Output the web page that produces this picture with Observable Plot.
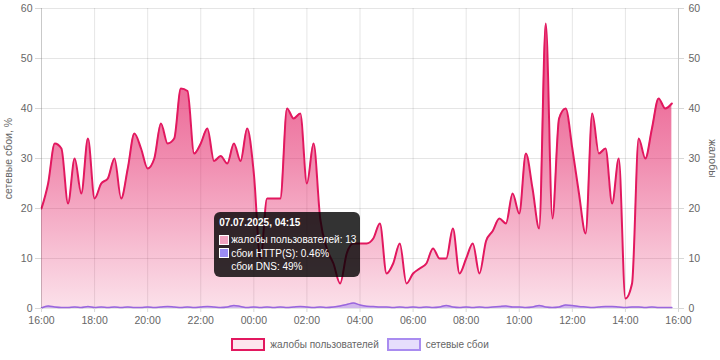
<!DOCTYPE html>
<html><head><meta charset="utf-8">
<script src="https://cdn.jsdelivr.net/npm/d3@7"></script>
<script src="https://cdn.jsdelivr.net/npm/@observablehq/plot@0.6"></script>
<style>
html,body{margin:0;padding:0;background:#fff;}
body{font-family:"Liberation Sans",Arial,sans-serif;}
#wrap{position:relative;width:720px;height:360px;overflow:hidden;}
#legend{position:absolute;left:0;top:338px;width:720px;display:flex;justify-content:center;align-items:center;font-size:10px;color:#666;}
#legend .item{display:flex;align-items:center;margin:0 4px;}
#legend .box{width:30px;height:9px;border:2px solid;margin-right:5px;}
#tip{position:absolute;width:146px;height:65px;box-sizing:border-box;background:rgba(0,0,0,0.8);border-radius:6px;color:#fff;font-size:10px;padding:4px 5px;line-height:13.8px;}
#tip .t{font-weight:bold;margin-bottom:3px;}
#tip .r{display:flex;align-items:center;white-space:nowrap;}
#tip .sq{width:10px;height:10px;box-sizing:border-box;border:1px solid #fff;margin-right:2px;flex:none;}
#tip .sp{width:12px;flex:none;margin-right:0;}
</style></head><body>
<div id="wrap"></div>
<script>
// complaints (жалобы пользователей), every 15 minutes from 06.07.2025 16:00
const complaints = [
  20,25,33,32,21,30,23,34,
  22,25,26,30,22,28,35,32,
  28,30,37,33,34,44,43.5,31,
  33,36,29.5,30.5,29,33,29.5,36,
  27,10,22,22,22,40,38,39,
  25,33,18,12,9,5,11,13,
  13,13,14,17,7,9,13,5,
  7,8,9,12,10,10,16,7,
  10,13,7,13.5,15.5,18,17,23,
  19,31,24,16,57,18,38,40,
  32,23,15,39,31,32,21,30,
  2,5,34,30,36,42,40,41
];
// network outages (сетевые сбои), %
const outages = [
  0.1,0.5,0.3,0.2,0.2,0.3,0.2,0.4,
  0.2,0.3,0.2,0.3,0.2,0.3,0.2,0.2,
  0.3,0.2,0.3,0.4,0.3,0.2,0.3,0.2,
  0.3,0.4,0.3,0.2,0.3,0.6,0.4,0.2,
  0.3,0.2,0.3,0.2,0.3,0.2,0.3,0.4,
  0.3,0.2,0.3,0.2,0.3,0.5,0.8,1.1,
  0.7,0.46,0.4,0.3,0.3,0.2,0.3,0.2,
  0.3,0.2,0.3,0.2,0.3,0.6,0.3,0.2,
  0.3,0.2,0.3,0.2,0.3,0.4,0.5,0.3,
  0.3,0.2,0.3,0.6,0.3,0.2,0.3,0.7,
  0.6,0.4,0.3,0.2,0.3,0.4,0.4,0.3,
  0.2,0.3,0.3,0.2,0.3,0.2,0.2,0.2
];
const yTicks = [0,10,20,30,40,50,60];
const seriesNames = ["жалобы пользователей","сетевые сбои"];
const leftTitle = "сетевые сбои, %";
const rightTitle = "жалобы";
const tipTitle = "07.07.2025, 04:15";
const tipLines = ["жалобы пользователей: 13","сбои HTTP(S): 0.46%","сбои DNS: 49%"];
const tipIndex = 49; // 04:15

const start = new Date(Date.UTC(2025,6,6,16,0));
const end = new Date(Date.UTC(2025,6,7,16,0));
const times = d3.utcMinute.every(15).range(start, end).slice(0, complaints.length);
const data = times.map((t,i)=>({t, c: complaints[i], o: outages[i]}));

const crimson = "#e2185f";
const xTicks = d3.utcHour.every(2).range(start, new Date(+end+1));
const fmt = d3.utcFormat("%H:%M");

const chart = Plot.plot({
  width: 720, height: 332,
  marginTop: 8, marginLeft: 41, marginRight: 42, marginBottom: 24,
  style: {fontFamily: '"Liberation Sans", Arial, sans-serif', fontSize: "10.5px", color: "#666", background: "transparent", overflow: "visible"},
  x: {type: "utc", domain: [start, end], label: null},
  y: {domain: [0, 60], label: null},
  marks: [
    Plot.gridX(xTicks, {stroke: "#000", strokeOpacity: 0.1}),
    Plot.gridY(yTicks, {stroke: "#000", strokeOpacity: 0.1}),
    Plot.areaY(data, {x: "t", y: "c", fill: "url(#cgrad)", curve: "monotone-x"}),
    Plot.lineY(data, {x: "t", y: "c", stroke: crimson, strokeWidth: 2, curve: "monotone-x"}),
    Plot.areaY(data, {x: "t", y: "o", fill: "#b497ec", fillOpacity: 0.6, curve: "monotone-x"}),
    Plot.lineY(data, {x: "t", y: "o", stroke: "#9a66dd", strokeWidth: 1.5, curve: "monotone-x"}),
    Plot.axisX(xTicks, {tickFormat: fmt, tickSize: 4, tickPadding: 4, stroke: "#d8d8d8", fill: "#666", label: null}),
    Plot.axisY(yTicks, {anchor: "left", tickSize: 6, tickPadding: 3, stroke: "#d8d8d8", fill: "#666", label: null}),
    Plot.axisY(yTicks, {anchor: "right", tickSize: 5, tickPadding: 5, stroke: "#d8d8d8", fill: "#666", label: null}),
    Plot.ruleX([start, end], {stroke: "#000", strokeOpacity: 0.12}),
    Plot.text([leftTitle], {frameAnchor: "left", textAnchor: "middle", rotate: -90, dx: -33, fill: "#666", fontSize: 10.5}),
    Plot.text([rightTitle], {frameAnchor: "right", textAnchor: "middle", rotate: 90, dx: 34, fill: "#666", fontSize: 10.5})
  ]
});

// gradient fill for complaints area
const ns = "http://www.w3.org/2000/svg";
const svgEl = chart.tagName.toLowerCase() === "svg" ? chart : chart.querySelector("svg");
const defs = document.createElementNS(ns, "defs");
const lg = document.createElementNS(ns, "linearGradient");
lg.setAttribute("id", "cgrad");
lg.setAttribute("gradientUnits", "userSpaceOnUse");
lg.setAttribute("x1", "0"); lg.setAttribute("x2", "0");
lg.setAttribute("y1", "8"); lg.setAttribute("y2", "308");
[[0, 0.8], [0.5, 0.5], [1, 0.13]].forEach(([o, a]) => {
  const s = document.createElementNS(ns, "stop");
  s.setAttribute("offset", o);
  s.setAttribute("stop-color", crimson);
  s.setAttribute("stop-opacity", a);
  lg.appendChild(s);
});
defs.appendChild(lg);
svgEl.insertBefore(defs, svgEl.firstChild);

const wrap = document.getElementById("wrap");
wrap.appendChild(chart);

// legend
const legend = document.createElement("div");
legend.id = "legend";
const legendStyles = [
  {bg: "#fde6ee", bc: crimson},
  {bg: "#e6defc", bc: "#a98cf0"}
];
seriesNames.forEach((n, i) => {
  const it = document.createElement("div");
  it.className = "item";
  const b = document.createElement("span");
  b.className = "box";
  b.style.background = legendStyles[i].bg;
  b.style.borderColor = legendStyles[i].bc;
  const tx = document.createElement("span");
  tx.textContent = n;
  it.appendChild(b); it.appendChild(tx);
  legend.appendChild(it);
});
wrap.appendChild(legend);

// tooltip at 04:15
const px = chart.scale("x").apply(times[tipIndex]);
const py = chart.scale("y").apply(complaints[tipIndex]);
const tip = document.createElement("div");
tip.id = "tip";
tip.style.left = (px - 6 - 146) + "px";
tip.style.top = (py - 31) + "px";
const tt = document.createElement("div");
tt.className = "t"; tt.textContent = tipTitle;
tip.appendChild(tt);
const sqColors = ["#f2a3c0", "#9b8cf4", null];
tipLines.forEach((l, i) => {
  const r = document.createElement("div");
  r.className = "r";
  const sq = document.createElement("span");
  if (sqColors[i]) { sq.className = "sq"; sq.style.background = sqColors[i]; }
  else { sq.className = "sp"; }
  const s = document.createElement("span");
  s.textContent = l;
  r.appendChild(sq); r.appendChild(s);
  tip.appendChild(r);
});
wrap.appendChild(tip);
</script>
</body></html>
